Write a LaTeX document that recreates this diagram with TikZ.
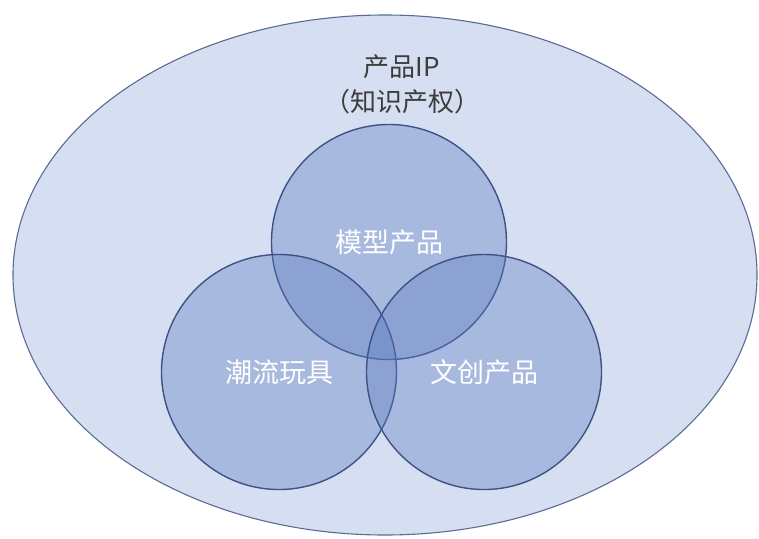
\documentclass[tikz,border=0pt]{standalone}
\usepackage{fontspec}
\newfontfamily\cjk{Noto Sans CJK SC}
\definecolor{outerfill}{RGB}{214,222,242}
\definecolor{outerline}{RGB}{90,108,150}
\definecolor{circfill}{RGB}{91,123,192}
\definecolor{circline}{RGB}{62,82,132}
\definecolor{txtdark}{RGB}{60,60,60}
\tikzset{
  outer/.style={draw=outerline, line width=1.1pt, fill=outerfill},
  setcircle/.style={circle, draw=circline, line width=1.4pt, fill=circfill, fill opacity=0.37, draw opacity=1, minimum size=235pt, inner sep=0pt},
  inlabel/.style={font=\cjk\fontsize{27}{30}\selectfont, text=white},
  toplabel/.style={font=\cjk\fontsize{26}{35}\selectfont, text=txtdark, align=center}
}
\begin{document}
\begin{tikzpicture}[x=1pt,y=-1pt]
\useasboundingbox (0,0) rectangle (759,538);
\fill[white] (0,0) rectangle (759,538);
\draw[outer] (385,275) ellipse [x radius=372pt, y radius=260pt];
\node[setcircle] (ctop) at (389,242) {};
\node[setcircle] (cleft) at (279,372) {};
\node[setcircle] (cright) at (484,372) {};
\node[inlabel] (ltop) at (ctop) {模型产品};
\node[inlabel] (lleft) at (cleft) {潮流玩具};
\node[inlabel] (lright) at (cright) {文创产品};
\node[toplabel] (title) at (402,84) {产品IP\\（知识产权）};
\end{tikzpicture}
\end{document}
